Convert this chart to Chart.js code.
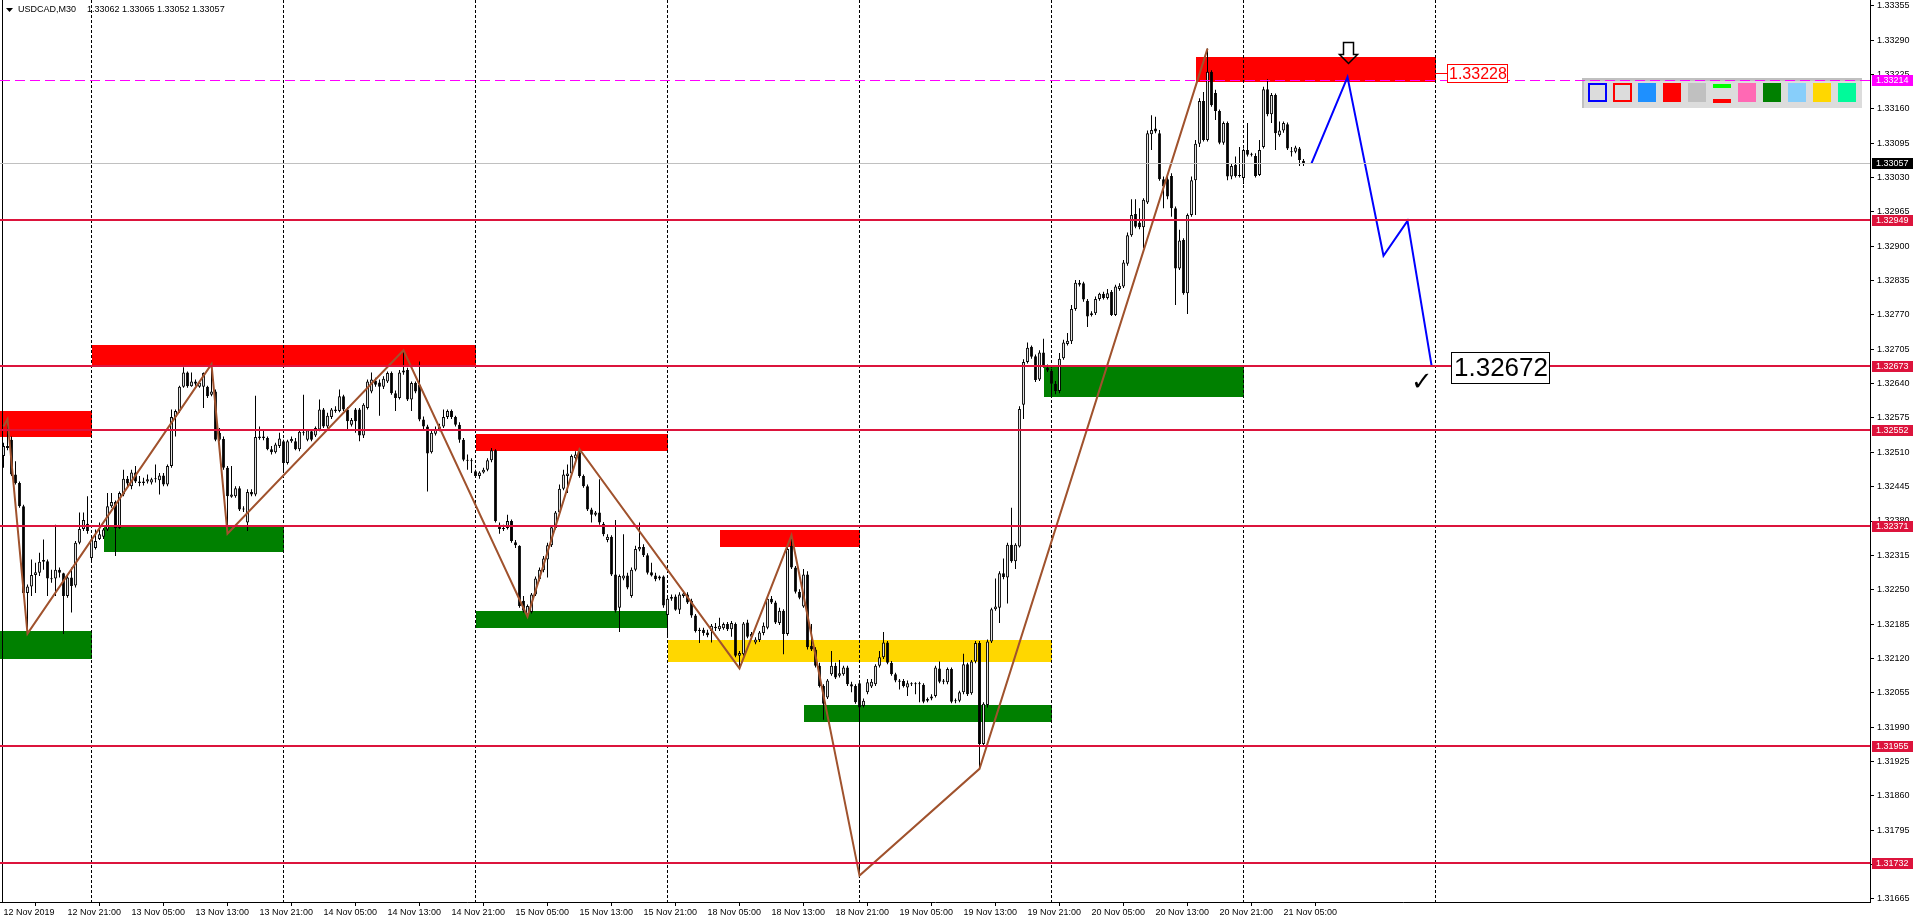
<!DOCTYPE html>
<html>
<head>
<meta charset="utf-8">
<title>USDCAD,M30</title>
<script src="https://cdn.jsdelivr.net/npm/chart.js@4.4.0/dist/chart.umd.min.js"></script>
<style>
  html, body { margin: 0; padding: 0; background: #fff; overflow: hidden; }
  canvas { display: block; }
</style>
</head>
<body>
<canvas id="usdcadChart" width="1916" height="923"></canvas>
<script>
// values (one candle per M30 bar, bar 0 = 12 Nov 13:00)
const symbolTitle = 'USDCAD,M30';
const lastQuote = '1.33062 1.33065 1.33052 1.33057';

const opens = [
  1.32503, 1.32522, 1.32534, 1.32468, 1.32452, 1.32408, 1.32244, 1.32256, 1.32278, 1.32282,
  1.32303, 1.32304, 1.32271, 1.32271, 1.32288, 1.32281, 1.32238, 1.32273, 1.32258, 1.32339,
  1.32365, 1.32375, 1.32310, 1.32329, 1.32346, 1.32350, 1.32364, 1.32408, 1.32416, 1.32367,
  1.32430, 1.32460, 1.32446, 1.32472, 1.32455, 1.32452, 1.32455, 1.32453, 1.32459, 1.32457,
  1.32466, 1.32449, 1.32484, 1.32577, 1.32588, 1.32634, 1.32661, 1.32635, 1.32644, 1.32634,
  1.32634, 1.32634, 1.32619, 1.32625, 1.32547, 1.32535, 1.32481, 1.32426, 1.32427, 1.32442,
  1.32402, 1.32377, 1.32435, 1.32430, 1.32537, 1.32540, 1.32537, 1.32516, 1.32510, 1.32522,
  1.32531, 1.32490, 1.32531, 1.32531, 1.32516, 1.32549, 1.32534, 1.32550, 1.32542, 1.32553,
  1.32591, 1.32559, 1.32577, 1.32591, 1.32588, 1.32616, 1.32591, 1.32562, 1.32591, 1.32591,
  1.32542, 1.32594, 1.32625, 1.32646, 1.32642, 1.32634, 1.32644, 1.32660, 1.32622, 1.32613,
  1.32661, 1.32666, 1.32610, 1.32641, 1.32638, 1.32572, 1.32559, 1.32510, 1.32545, 1.32553,
  1.32559, 1.32577, 1.32588, 1.32577, 1.32562, 1.32534, 1.32496, 1.32494, 1.32474, 1.32465,
  1.32472, 1.32477, 1.32495, 1.32514, 1.32373, 1.32365, 1.32367, 1.32380, 1.32340, 1.32333,
  1.32229, 1.32203, 1.32208, 1.32241, 1.32270, 1.32287, 1.32307, 1.32334, 1.32367, 1.32396,
  1.32441, 1.32465, 1.32470, 1.32499, 1.32510, 1.32465, 1.32446, 1.32402, 1.32392, 1.32396,
  1.32375, 1.32344, 1.32350, 1.32279, 1.32216, 1.32271, 1.32277, 1.32238, 1.32288, 1.32326,
  1.32331, 1.32315, 1.32283, 1.32277, 1.32271, 1.32275, 1.32202, 1.32233, 1.32237, 1.32212,
  1.32238, 1.32241, 1.32229, 1.32201, 1.32172, 1.32174, 1.32169, 1.32172, 1.32180, 1.32175,
  1.32177, 1.32185, 1.32175, 1.32185, 1.32125, 1.32128, 1.32188, 1.32161, 1.32150, 1.32155,
  1.32168, 1.32178, 1.32233, 1.32226, 1.32187, 1.32210, 1.32166, 1.32333, 1.32292, 1.32246,
  1.32218, 1.32279, 1.32144, 1.32137, 1.32106, 1.32068, 1.32046, 1.32090, 1.32106, 1.32087,
  1.32090, 1.32103, 1.32071, 1.32068, 1.32073, 1.32030, 1.32056, 1.32067, 1.32071, 1.32106,
  1.32122, 1.32150, 1.32112, 1.32090, 1.32078, 1.32077, 1.32065, 1.32073, 1.32071, 1.32071,
  1.32070, 1.32040, 1.32044, 1.32049, 1.32101, 1.32076, 1.32075, 1.32100, 1.32039, 1.32040,
  1.32056, 1.32109, 1.32054, 1.32114, 1.32149, 1.31958, 1.32032, 1.32152, 1.32213, 1.32216,
  1.32281, 1.32273, 1.32335, 1.32304, 1.32332, 1.32600, 1.32681, 1.32710, 1.32692, 1.32648,
  1.32699, 1.32670, 1.32664, 1.32640, 1.32626, 1.32688, 1.32715, 1.32720, 1.32781, 1.32827,
  1.32830, 1.32797, 1.32770, 1.32773, 1.32800, 1.32810, 1.32802, 1.32814, 1.32770, 1.32819,
  1.32824, 1.32867, 1.32921, 1.32961, 1.32945, 1.32936, 1.32983, 1.33112, 1.33123, 1.33114,
  1.33027, 1.33027, 1.33033, 1.32972, 1.32858, 1.32912, 1.32811, 1.32959, 1.33025, 1.33094,
  1.33175, 1.33101, 1.33230, 1.33190, 1.33156, 1.33096, 1.33133, 1.33032, 1.33054, 1.33033,
  1.33029, 1.33082, 1.33073, 1.33071, 1.33035, 1.33088, 1.33197, 1.33150, 1.33186, 1.33110,
  1.33119, 1.33131, 1.33080, 1.33079, 1.33085, 1.33062
];

const highs = [
  1.32528, 1.32573, 1.32540, 1.32493, 1.32455, 1.32411, 1.32260, 1.32307, 1.32301, 1.32320,
  1.32345, 1.32307, 1.32288, 1.32373, 1.32292, 1.32282, 1.32276, 1.32292, 1.32342, 1.32396,
  1.32396, 1.32427, 1.32348, 1.32364, 1.32377, 1.32367, 1.32433, 1.32433, 1.32419, 1.32436,
  1.32477, 1.32465, 1.32477, 1.32484, 1.32465, 1.32462, 1.32468, 1.32462, 1.32487, 1.32471,
  1.32471, 1.32487, 1.32591, 1.32591, 1.32636, 1.32671, 1.32663, 1.32661, 1.32648, 1.32644,
  1.32661, 1.32636, 1.32677, 1.32629, 1.32556, 1.32540, 1.32484, 1.32484, 1.32446, 1.32446,
  1.32408, 1.32440, 1.32440, 1.32617, 1.32559, 1.32553, 1.32540, 1.32522, 1.32528, 1.32547,
  1.32534, 1.32534, 1.32540, 1.32537, 1.32553, 1.32619, 1.32554, 1.32553, 1.32559, 1.32610,
  1.32594, 1.32585, 1.32594, 1.32597, 1.32629, 1.32619, 1.32596, 1.32575, 1.32594, 1.32594,
  1.32603, 1.32648, 1.32661, 1.32651, 1.32648, 1.32654, 1.32663, 1.32663, 1.32627, 1.32666,
  1.32703, 1.32670, 1.32644, 1.32644, 1.32682, 1.32578, 1.32562, 1.32553, 1.32559, 1.32564,
  1.32591, 1.32591, 1.32591, 1.32579, 1.32567, 1.32537, 1.32506, 1.32499, 1.32477, 1.32474,
  1.32481, 1.32499, 1.32518, 1.32516, 1.32377, 1.32373, 1.32392, 1.32383, 1.32344, 1.32334,
  1.32238, 1.32222, 1.32244, 1.32275, 1.32292, 1.32314, 1.32339, 1.32372, 1.32399, 1.32449,
  1.32477, 1.32487, 1.32506, 1.32512, 1.32516, 1.32468, 1.32449, 1.32405, 1.32399, 1.32459,
  1.32378, 1.32355, 1.32353, 1.32382, 1.32279, 1.32355, 1.32282, 1.32292, 1.32333, 1.32377,
  1.32336, 1.32319, 1.32301, 1.32282, 1.32277, 1.32277, 1.32237, 1.32241, 1.32241, 1.32245,
  1.32248, 1.32245, 1.32233, 1.32204, 1.32178, 1.32178, 1.32174, 1.32185, 1.32187, 1.32197,
  1.32188, 1.32189, 1.32191, 1.32188, 1.32134, 1.32189, 1.32193, 1.32170, 1.32160, 1.32172,
  1.32188, 1.32238, 1.32238, 1.32229, 1.32216, 1.32213, 1.32333, 1.32353, 1.32295, 1.32251,
  1.32289, 1.32285, 1.32185, 1.32141, 1.32112, 1.32071, 1.32081, 1.32134, 1.32112, 1.32117,
  1.32106, 1.32106, 1.32076, 1.32071, 1.32078, 1.32044, 1.32081, 1.32081, 1.32109, 1.32134,
  1.32170, 1.32153, 1.32115, 1.32093, 1.32081, 1.32081, 1.32078, 1.32075, 1.32075, 1.32076,
  1.32073, 1.32046, 1.32052, 1.32106, 1.32114, 1.32081, 1.32103, 1.32103, 1.32044, 1.32059,
  1.32129, 1.32112, 1.32117, 1.32153, 1.32153, 1.32037, 1.32156, 1.32216, 1.32271, 1.32285,
  1.32309, 1.32339, 1.32405, 1.32338, 1.32597, 1.32686, 1.32718, 1.32712, 1.32695, 1.32703,
  1.32725, 1.32676, 1.32668, 1.32645, 1.32698, 1.32723, 1.32736, 1.32789, 1.32836, 1.32836,
  1.32833, 1.32800, 1.32777, 1.32805, 1.32812, 1.32814, 1.32819, 1.32817, 1.32827, 1.32830,
  1.32874, 1.32926, 1.32989, 1.32989, 1.32972, 1.32991, 1.33119, 1.33148, 1.33145, 1.33120,
  1.33032, 1.33035, 1.33038, 1.32975, 1.32931, 1.32915, 1.32962, 1.33032, 1.33101, 1.33180,
  1.33192, 1.33274, 1.33233, 1.33196, 1.33159, 1.33136, 1.33136, 1.33057, 1.33070, 1.33088,
  1.33085, 1.33133, 1.33077, 1.33076, 1.33101, 1.33202, 1.33216, 1.33190, 1.33189, 1.33136,
  1.33136, 1.33134, 1.33088, 1.33090, 1.33088, 1.33065
];

const lows = [
  1.32481, 1.32514, 1.32465, 1.32449, 1.32405, 1.32238, 1.32167, 1.32238, 1.32244, 1.32276,
  1.32288, 1.32238, 1.32263, 1.32238, 1.32273, 1.32166, 1.32235, 1.32207, 1.32254, 1.32336,
  1.32361, 1.32356, 1.32301, 1.32326, 1.32344, 1.32346, 1.32361, 1.32405, 1.32314, 1.32365,
  1.32427, 1.32446, 1.32440, 1.32452, 1.32446, 1.32447, 1.32451, 1.32449, 1.32453, 1.32430,
  1.32446, 1.32446, 1.32481, 1.32540, 1.32585, 1.32632, 1.32632, 1.32634, 1.32636, 1.32632,
  1.32594, 1.32613, 1.32616, 1.32531, 1.32531, 1.32477, 1.32356, 1.32424, 1.32424, 1.32399,
  1.32397, 1.32361, 1.32427, 1.32427, 1.32534, 1.32533, 1.32514, 1.32506, 1.32508, 1.32518,
  1.32471, 1.32487, 1.32528, 1.32514, 1.32512, 1.32542, 1.32531, 1.32531, 1.32539, 1.32550,
  1.32556, 1.32556, 1.32573, 1.32585, 1.32586, 1.32588, 1.32553, 1.32559, 1.32547, 1.32531,
  1.32537, 1.32591, 1.32622, 1.32634, 1.32579, 1.32630, 1.32641, 1.32619, 1.32588, 1.32610,
  1.32657, 1.32607, 1.32588, 1.32622, 1.32569, 1.32553, 1.32436, 1.32508, 1.32542, 1.32550,
  1.32556, 1.32573, 1.32573, 1.32559, 1.32528, 1.32493, 1.32477, 1.32471, 1.32462, 1.32460,
  1.32470, 1.32474, 1.32491, 1.32377, 1.32356, 1.32361, 1.32364, 1.32339, 1.32329, 1.32216,
  1.32207, 1.32199, 1.32205, 1.32238, 1.32266, 1.32283, 1.32273, 1.32331, 1.32364, 1.32392,
  1.32438, 1.32433, 1.32465, 1.32496, 1.32462, 1.32443, 1.32399, 1.32377, 1.32389, 1.32373,
  1.32351, 1.32340, 1.32276, 1.32207, 1.32170, 1.32268, 1.32251, 1.32235, 1.32285, 1.32323,
  1.32312, 1.32279, 1.32275, 1.32266, 1.32268, 1.32216, 1.32163, 1.32229, 1.32210, 1.32204,
  1.32235, 1.32223, 1.32197, 1.32169, 1.32149, 1.32163, 1.32160, 1.32150, 1.32172, 1.32172,
  1.32174, 1.32172, 1.32161, 1.32122, 1.32101, 1.32125, 1.32158, 1.32158, 1.32147, 1.32151,
  1.32164, 1.32175, 1.32223, 1.32185, 1.32183, 1.32128, 1.32163, 1.32289, 1.32243, 1.32232,
  1.32216, 1.32137, 1.32134, 1.32103, 1.32065, 1.32004, 1.32043, 1.32087, 1.32081, 1.32084,
  1.32087, 1.32068, 1.32056, 1.32034, 1.31709, 1.32027, 1.32052, 1.32064, 1.32068, 1.32103,
  1.32119, 1.32109, 1.32087, 1.32075, 1.32061, 1.32065, 1.32049, 1.32068, 1.32052, 1.32037,
  1.32035, 1.32037, 1.32041, 1.32046, 1.32073, 1.32071, 1.32071, 1.32035, 1.32035, 1.32037,
  1.32052, 1.32049, 1.32051, 1.32111, 1.31911, 1.31955, 1.32027, 1.32149, 1.32210, 1.32187,
  1.32270, 1.32224, 1.32301, 1.32289, 1.32330, 1.32573, 1.32678, 1.32687, 1.32643, 1.32645,
  1.32670, 1.32662, 1.32616, 1.32620, 1.32622, 1.32685, 1.32712, 1.32715, 1.32778, 1.32824,
  1.32795, 1.32747, 1.32767, 1.32770, 1.32797, 1.32799, 1.32799, 1.32768, 1.32768, 1.32816,
  1.32821, 1.32863, 1.32918, 1.32934, 1.32932, 1.32896, 1.32980, 1.33082, 1.33114, 1.33024,
  1.32972, 1.32989, 1.32956, 1.32789, 1.32855, 1.32808, 1.32772, 1.32956, 1.32959, 1.33088,
  1.33098, 1.33098, 1.33164, 1.33139, 1.33093, 1.33092, 1.33025, 1.33027, 1.33030, 1.33030,
  1.33018, 1.33070, 1.33070, 1.33030, 1.33033, 1.33085, 1.33146, 1.33133, 1.33082, 1.33107,
  1.33115, 1.33082, 1.33070, 1.33076, 1.33052, 1.33052
];

const closes = [
  1.32522, 1.32518, 1.32468, 1.32452, 1.32408, 1.32244, 1.32256, 1.32278, 1.32283, 1.32303,
  1.32306, 1.32271, 1.32270, 1.32288, 1.32282, 1.32238, 1.32273, 1.32257, 1.32339, 1.32365,
  1.32382, 1.32361, 1.32345, 1.32342, 1.32355, 1.32364, 1.32408, 1.32416, 1.32367, 1.32433,
  1.32460, 1.32451, 1.32472, 1.32455, 1.32452, 1.32455, 1.32459, 1.32459, 1.32460, 1.32466,
  1.32449, 1.32484, 1.32577, 1.32588, 1.32634, 1.32661, 1.32635, 1.32644, 1.32640, 1.32642,
  1.32660, 1.32616, 1.32625, 1.32534, 1.32534, 1.32481, 1.32427, 1.32430, 1.32442, 1.32402,
  1.32403, 1.32435, 1.32430, 1.32539, 1.32540, 1.32537, 1.32516, 1.32510, 1.32525, 1.32536,
  1.32490, 1.32531, 1.32535, 1.32516, 1.32549, 1.32547, 1.32552, 1.32534, 1.32556, 1.32591,
  1.32559, 1.32579, 1.32591, 1.32588, 1.32616, 1.32591, 1.32569, 1.32571, 1.32569, 1.32542,
  1.32600, 1.32644, 1.32648, 1.32638, 1.32634, 1.32649, 1.32660, 1.32622, 1.32613, 1.32661,
  1.32665, 1.32610, 1.32641, 1.32625, 1.32572, 1.32559, 1.32508, 1.32547, 1.32553, 1.32559,
  1.32577, 1.32588, 1.32577, 1.32562, 1.32534, 1.32496, 1.32494, 1.32493, 1.32465, 1.32472,
  1.32477, 1.32495, 1.32514, 1.32380, 1.32365, 1.32366, 1.32380, 1.32342, 1.32334, 1.32219,
  1.32210, 1.32219, 1.32241, 1.32271, 1.32288, 1.32309, 1.32334, 1.32368, 1.32396, 1.32441,
  1.32468, 1.32470, 1.32503, 1.32506, 1.32465, 1.32446, 1.32402, 1.32392, 1.32396, 1.32377,
  1.32355, 1.32350, 1.32279, 1.32210, 1.32276, 1.32277, 1.32254, 1.32288, 1.32327, 1.32331,
  1.32315, 1.32282, 1.32277, 1.32270, 1.32275, 1.32220, 1.32233, 1.32236, 1.32212, 1.32241,
  1.32243, 1.32226, 1.32201, 1.32172, 1.32174, 1.32168, 1.32164, 1.32182, 1.32177, 1.32182,
  1.32185, 1.32175, 1.32187, 1.32125, 1.32130, 1.32186, 1.32161, 1.32166, 1.32156, 1.32169,
  1.32182, 1.32233, 1.32226, 1.32188, 1.32210, 1.32166, 1.32327, 1.32292, 1.32246, 1.32235,
  1.32279, 1.32141, 1.32137, 1.32106, 1.32068, 1.32034, 1.32078, 1.32106, 1.32084, 1.32092,
  1.32103, 1.32071, 1.32067, 1.32037, 1.32027, 1.32040, 1.32075, 1.32076, 1.32106, 1.32122,
  1.32150, 1.32112, 1.32090, 1.32078, 1.32076, 1.32068, 1.32073, 1.32071, 1.32071, 1.32073,
  1.32038, 1.32043, 1.32048, 1.32103, 1.32076, 1.32078, 1.32100, 1.32038, 1.32041, 1.32056,
  1.32109, 1.32052, 1.32114, 1.32149, 1.31958, 1.32034, 1.32152, 1.32213, 1.32218, 1.32281,
  1.32274, 1.32335, 1.32304, 1.32335, 1.32592, 1.32681, 1.32708, 1.32691, 1.32647, 1.32699,
  1.32673, 1.32665, 1.32640, 1.32626, 1.32687, 1.32718, 1.32721, 1.32781, 1.32831, 1.32831,
  1.32799, 1.32767, 1.32773, 1.32800, 1.32810, 1.32802, 1.32811, 1.32770, 1.32824, 1.32825,
  1.32869, 1.32921, 1.32959, 1.32937, 1.32936, 1.32988, 1.33114, 1.33120, 1.33117, 1.33027,
  1.33013, 1.32994, 1.32972, 1.32858, 1.32911, 1.32811, 1.32959, 1.33025, 1.33094, 1.33175,
  1.33101, 1.33230, 1.33167, 1.33156, 1.33096, 1.33133, 1.33032, 1.33052, 1.33033, 1.33035,
  1.33082, 1.33073, 1.33075, 1.33033, 1.33082, 1.33197, 1.33150, 1.33186, 1.33114, 1.33119,
  1.33133, 1.33085, 1.33078, 1.33087, 1.33063, 1.33057
];

// time axis: a label every 16 bars (8 hours), weekend bars absent
const xTickBars = [0, 16, 32, 48, 64, 80, 96, 112, 128, 144, 160, 176, 192, 208, 224, 240, 256, 272, 288, 304, 320];
const xTickLabels = ['12 Nov 2019', '12 Nov 21:00', '13 Nov 05:00', '13 Nov 13:00', '13 Nov 21:00', '14 Nov 05:00',
  '14 Nov 13:00', '14 Nov 21:00', '15 Nov 05:00', '15 Nov 13:00', '15 Nov 21:00', '18 Nov 05:00', '18 Nov 13:00',
  '18 Nov 21:00', '19 Nov 05:00', '19 Nov 13:00', '19 Nov 21:00', '20 Nov 05:00', '20 Nov 13:00', '20 Nov 21:00', '21 Nov 05:00'];
const yTickValues = [1.31665, 1.31730, 1.31795, 1.31860, 1.31925, 1.31990, 1.32055, 1.32120, 1.32185, 1.32250,
  1.32315, 1.32380, 1.32445, 1.32510, 1.32575, 1.32640, 1.32705, 1.32770, 1.32835, 1.32900, 1.32965,
  1.33030, 1.33095, 1.33160, 1.33225, 1.33290, 1.33355];
const separatorBars = [22, 70, 118, 166, 214, 262, 310, 358];   // day starts

const levelPrices = [1.32949, 1.32673, 1.32552, 1.32371, 1.31955, 1.31732];
const resistancePrice = 1.33214;
const bidPrice = 1.33057;

const zigzagBars = [0, 1, 6, 52, 56, 100, 131, 144, 184, 197, 214, 244, 301];
const zigzagPrices = [1.32559, 1.32573, 1.32167, 1.32677, 1.32356, 1.32703, 1.32199, 1.32516, 1.32101, 1.32353, 1.31709, 1.31911, 1.33274];

const forecastBars = [327, 336, 345, 351, 357];
const forecastPrices = [1.33057, 1.33220, 1.32882, 1.32948, 1.32675];

// supply / demand boxes
const zoneFrom = [-0.875, -0.875, 22, 25, 118, 118, 179, 166, 200, 260, 298];
const zoneTo = [22, 22, 118, 70, 166, 166, 214, 262, 262, 310, 358];
const zoneTop = [1.32588, 1.32172, 1.32713, 1.32371, 1.32545, 1.32210, 1.32363, 1.32155, 1.32032, 1.32672, 1.33258];
const zoneBottom = [1.32539, 1.32119, 1.32673, 1.32321, 1.32513, 1.32178, 1.32331, 1.32113, 1.32000, 1.32615, 1.33211];
const zoneKind = ['sell', 'buy', 'sell', 'buy', 'sell', 'buy', 'sell', 'range', 'buy', 'buy', 'sell'];

const entryPrice = 1.33228;
const targetPrice = 1.32672;

// ---- styling ----
const zoneColors = { sell: '#ff0000', buy: '#008000', range: '#ffd700' };
const FONT = '"Liberation Sans", Arial, sans-serif';
Chart.defaults.font.family = FONT;
Chart.defaults.font.size = 9;
Chart.defaults.color = '#000';

const wickData = lows.map((lo, i) => ({ x: i, y: [lo, highs[i]] }));
const bodyData = opens.map((op, i) => ({ x: i, y: [op, closes[i]] }));
const bodyFill = opens.map((op, i) => (closes[i] >= op ? '#ffffff' : '#000000'));

const overlay = {
  id: 'overlay',
  beforeDatasetsDraw(chart) {
    const { ctx, chartArea: a, scales: { x, y } } = chart;
    ctx.save();
    ctx.beginPath();
    ctx.rect(a.left, a.top, a.right - a.left, a.bottom - a.top);
    ctx.clip();
    zoneFrom.forEach((from, i) => {
      const x0 = Math.round(x.getPixelForValue(from));
      const x1 = Math.round(x.getPixelForValue(zoneTo[i]));
      const y0 = Math.round(y.getPixelForValue(zoneTop[i]));
      const y1 = Math.round(y.getPixelForValue(zoneBottom[i]));
      ctx.fillStyle = zoneColors[zoneKind[i]];
      ctx.fillRect(x0, y0, x1 - x0, y1 - y0);
    });
    ctx.strokeStyle = '#000';
    ctx.lineWidth = 1;
    ctx.setLineDash([3, 2]);
    separatorBars.forEach(b => {
      const px = Math.floor(x.getPixelForValue(b)) + 0.5;
      ctx.beginPath();
      ctx.moveTo(px, a.top);
      ctx.lineTo(px, a.bottom);
      ctx.stroke();
    });
    ctx.restore();
    // left frame
    ctx.fillStyle = '#000';
    ctx.fillRect(2, a.top, 1, a.bottom - a.top);
  },
  afterDatasetsDraw(chart) {
    const { ctx, chartArea: a, scales: { x, y } } = chart;
    // colour palette panel
    ctx.save();
    ctx.fillStyle = '#c0c0c0';
    ctx.fillRect(1582, 78, 280, 30);
    ctx.fillStyle = '#dcdcdc';
    ctx.fillRect(1584, 81, 278, 27);
    const sw = ['outline:#0000ff', 'outline:#ff0000', '#1e90ff', '#ff0000', '#c0c0c0', 'bars',
      '#ff69b4', '#008000', '#87cefa', '#ffd700', '#00fa9a'];
    sw.forEach((c, i) => {
      const left = 1588 + 25 * i;
      if (c.startsWith('outline:')) {
        ctx.fillStyle = c.slice(8);
        ctx.fillRect(left, 83, 19, 19);
        ctx.fillStyle = '#dcdcdc';
        ctx.fillRect(left + 2, 85, 15, 15);
      } else if (c === 'bars') {
        ctx.fillStyle = '#00ff00';
        ctx.fillRect(left, 84, 18, 4);
        ctx.fillStyle = '#ff0000';
        ctx.fillRect(left, 99, 18, 4);
      } else {
        ctx.fillStyle = c;
        ctx.fillRect(left, 83, 18, 19);
      }
    });
    ctx.restore();

    ctx.save();
    ctx.beginPath();
    ctx.rect(a.left, a.top, a.right - a.left, a.bottom - a.top);
    ctx.clip();
    // current bid line
    ctx.fillStyle = '#c0c0c0';
    ctx.fillRect(a.left, Math.round(y.getPixelForValue(bidPrice)), a.right - a.left, 1);
    // support / resistance levels
    ctx.fillStyle = '#dc143c';
    levelPrices.forEach(p => {
      ctx.fillRect(a.left, Math.round(y.getPixelForValue(p)) - 1, a.right - a.left, 2);
    });
    // dashed resistance line
    ctx.strokeStyle = '#ff00ff';
    ctx.lineWidth = 1;
    ctx.setLineDash([10, 5]);
    const ry = Math.round(y.getPixelForValue(resistancePrice)) + 0.5;
    ctx.beginPath();
    ctx.moveTo(a.left, ry);
    ctx.lineTo(a.right, ry);
    ctx.stroke();
    ctx.setLineDash([]);

    // entry label with leader
    const ey = Math.round(y.getPixelForValue(entryPrice)) + 0.5;
    const ex0 = Math.round(x.getPixelForValue(358));
    const ex1 = Math.round(x.getPixelForValue(360.9));
    ctx.strokeStyle = '#ff0000';
    ctx.beginPath();
    ctx.moveTo(ex0, ey);
    ctx.lineTo(ex1, ey);
    ctx.stroke();
    ctx.fillStyle = '#ffffff';
    ctx.fillRect(ex1, ey - 9, 60, 18);
    ctx.strokeRect(ex1 + 0.5, ey - 9, 60, 18);
    ctx.fillStyle = '#ff0000';
    ctx.font = '16px ' + FONT;
    ctx.textBaseline = 'middle';
    ctx.fillText(entryPrice.toFixed(5), ex1 + 2, ey + 1);

    // target label
    const ty = y.getPixelForValue(targetPrice);
    const tx = Math.round(x.getPixelForValue(361.9));
    ctx.fillStyle = '#ffffff';
    ctx.fillRect(tx, Math.round(ty) - 15, 98, 31);
    ctx.strokeStyle = '#000';
    ctx.strokeRect(tx + 0.5, Math.round(ty) - 14.5, 98, 31);
    ctx.fillStyle = '#000';
    ctx.font = '26px ' + FONT;
    ctx.fillText(targetPrice.toFixed(5), tx + 3, Math.round(ty) + 2);

    // check mark at the target
    ctx.font = 'bold 26px "DejaVu Sans"';
    ctx.textAlign = 'center';
    ctx.fillText('\u2713', x.getPixelForValue(354.6), y.getPixelForValue(1.32645) + 2);
    ctx.textAlign = 'left';

    // hollow down arrow above the entry
    const ax = Math.round(x.getPixelForValue(336)) + 0.5;
    const ay = Math.round(y.getPixelForValue(1.33247)) + 0.5;
    ctx.beginPath();
    ctx.moveTo(ax - 5, ay - 21);
    ctx.lineTo(ax + 5, ay - 21);
    ctx.lineTo(ax + 5, ay - 9);
    ctx.lineTo(ax + 9, ay - 9);
    ctx.lineTo(ax, ay);
    ctx.lineTo(ax - 9, ay - 9);
    ctx.lineTo(ax - 5, ay - 9);
    ctx.closePath();
    ctx.lineWidth = 1.5;
    ctx.strokeStyle = '#000';
    ctx.stroke();
    ctx.restore();
  },
  afterDraw(chart) {
    const { ctx, chartArea: a, scales: { y } } = chart;
    ctx.save();
    // price tags on the axis
    const tag = (price, bg) => {
      const py = Math.round(y.getPixelForValue(price));
      ctx.fillStyle = bg;
      ctx.fillRect(a.right + 2, py - 5, 41, 11);
      ctx.fillStyle = '#fff';
      ctx.font = '9px ' + FONT;
      ctx.textBaseline = 'middle';
      ctx.fillText(price.toFixed(5), a.right + 6, py + 1);
    };
    tag(resistancePrice, '#ff00ff');
    tag(bidPrice, '#000000');
    levelPrices.forEach(p => tag(p, '#dc143c'));

    // header
    ctx.fillStyle = '#000';
    ctx.beginPath();
    ctx.moveTo(6, 8);
    ctx.lineTo(13, 8);
    ctx.lineTo(9.5, 12);
    ctx.closePath();
    ctx.fill();
    ctx.font = '9px ' + FONT;
    ctx.textBaseline = 'middle';
    ctx.fillText(symbolTitle, 18, 10);
    ctx.fillText(lastQuote, 87, 10);
    ctx.restore();
  }
};

new Chart(document.getElementById('usdcadChart'), {
  type: 'bar',
  data: {
    datasets: [
      {
        type: 'line', label: 'ZigZag', order: 1,
        data: zigzagBars.map((b, i) => ({ x: b, y: zigzagPrices[i] })),
        borderColor: '#a0522d', borderWidth: 2, pointRadius: 0, tension: 0, fill: false
      },
      {
        type: 'line', label: 'Forecast', order: 0,
        data: forecastBars.map((b, i) => ({ x: b, y: forecastPrices[i] })),
        borderColor: '#0000ff', borderWidth: 2, pointRadius: 0, tension: 0, fill: false
      },
      {
        label: 'Wick', order: 3, data: wickData, grouped: false,
        backgroundColor: '#000', maxBarThickness: 1, minBarLength: 1, borderWidth: 0
      },
      {
        label: 'Body', order: 2, data: bodyData, grouped: false,
        backgroundColor: bodyFill, borderColor: '#000', borderWidth: 1, borderSkipped: false,
        maxBarThickness: 3, minBarLength: 1
      }
    ]
  },
  options: {
    responsive: false,
    animation: false,
    devicePixelRatio: 1,
    layout: { padding: 0 },
    plugins: { legend: { display: false }, tooltip: { enabled: false } },
    scales: {
      x: {
        type: 'linear', offset: false, min: -0.875, max: 466.625,
        grid: { drawOnChartArea: false, drawTicks: true, tickLength: 4, color: '#000' },
        border: { display: true, color: '#000' },
        ticks: {
          autoSkip: false, maxRotation: 0, align: 'start', padding: 1, color: '#000',
          callback: (v, i) => xTickLabels[i]
        },
        afterBuildTicks: s => { s.ticks = xTickBars.map(v => ({ value: v })); },
        afterFit: s => { s.height = 21; s.paddingLeft = 0; s.paddingRight = 0; }
      },
      y: {
        position: 'right', min: 1.31659, max: 1.33366, beginAtZero: false,
        grid: { drawOnChartArea: false, drawTicks: true, tickLength: 4, color: '#000' },
        border: { display: true, color: '#000' },
        ticks: { autoSkip: false, padding: 3, color: '#000', callback: v => v.toFixed(5) },
        afterBuildTicks: s => { s.ticks = yTickValues.map(v => ({ value: v })); },
        afterFit: s => { s.width = 46; s.paddingTop = 0; s.paddingBottom = 0; }
      }
    }
  },
  plugins: [overlay]
});
</script>
</body>
</html>
